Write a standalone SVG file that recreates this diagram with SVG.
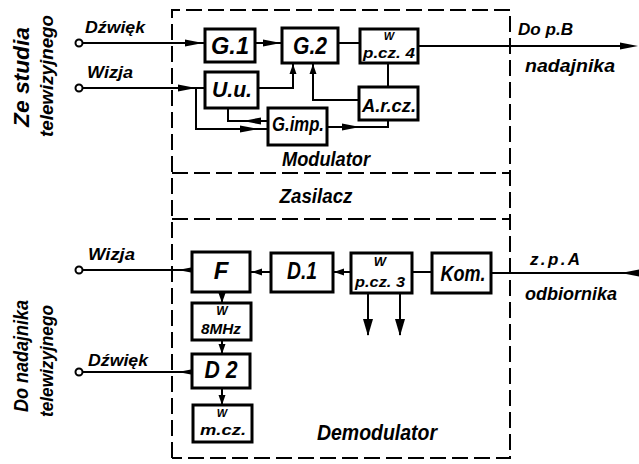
<svg xmlns="http://www.w3.org/2000/svg" xmlns:xlink="http://www.w3.org/1999/xlink" width="639" height="464" viewBox="0 0 639 464">
<style>
text{font-family:"Liberation Sans",Arial,sans-serif;font-style:italic;font-weight:bold;fill:#000}
.box{fill:#fff;stroke:#000;stroke-width:3}
.ln{fill:none;stroke:#000;stroke-width:2}
.dash{fill:none;stroke:#000;stroke-width:2;stroke-dasharray:16 6}
.c{text-anchor:middle}
.term{fill:#fff;stroke:#000;stroke-width:2}
</style>
<defs>
<path id="ah" d="M0,0 L-18,-3.5 L-18,3.5 Z" fill="#000"/>
<path id="as" d="M0,0 L-10,-3.5 L-10,3.5 Z" fill="#000"/>
<path id="ab" d="M0,0 L-17,-5 L-17,5 Z" fill="#000"/>
</defs>
<rect width="639" height="464" fill="#fff"/>

<g id="frame">
<path class="dash" d="M172,458 V10 H510 V458 H172"/>
<path class="dash" d="M172,173 H510"/>
<path class="dash" d="M172,219 H510"/>
<text x="326" y="166" class="c" font-size="20" textLength="88" lengthAdjust="spacingAndGlyphs">Modulator</text>
<text x="316" y="203" class="c" font-size="20" textLength="73" lengthAdjust="spacingAndGlyphs">Zasilacz</text>
<text x="377" y="440" class="c" font-size="22" textLength="120" lengthAdjust="spacingAndGlyphs">Demodulator</text>
</g>

<g id="labels">
<text transform="translate(29,77) rotate(-90)" class="c" font-size="22" textLength="100" lengthAdjust="spacingAndGlyphs">Ze studia</text>
<text transform="translate(53,76) rotate(-90)" class="c" font-size="18" textLength="122" lengthAdjust="spacingAndGlyphs">telewizyjnego</text>
<text transform="translate(28,356) rotate(-90)" class="c" font-size="21" textLength="112" lengthAdjust="spacingAndGlyphs">Do nadajnika</text>
<text transform="translate(53,361) rotate(-90)" class="c" font-size="18" textLength="112" lengthAdjust="spacingAndGlyphs">telewizyjnego</text>
<text x="85" y="33" font-size="17" textLength="60" lengthAdjust="spacingAndGlyphs">Dźwięk</text>
<text x="87" y="78" font-size="17" textLength="46" lengthAdjust="spacingAndGlyphs">Wizja</text>
<text x="88" y="260" font-size="17" textLength="47" lengthAdjust="spacingAndGlyphs">Wizja</text>
<text x="88" y="366" font-size="17" textLength="60" lengthAdjust="spacingAndGlyphs">Dźwięk</text>
<text x="518" y="35" font-size="16" textLength="55" lengthAdjust="spacingAndGlyphs">Do p.B</text>
<text x="525" y="72" font-size="18" textLength="90" lengthAdjust="spacingAndGlyphs">nadajnika</text>
<text x="530" y="265" font-size="17" textLength="50">z.p.A</text>
<text x="525" y="300" font-size="18" textLength="92" lengthAdjust="spacingAndGlyphs">odbiornika</text>
</g>

<g id="connectors">
<path class="ln" d="M82,43 H205"/>
<path class="ln" d="M82,88 H205"/>
<path class="ln" d="M196,88 V129 H268"/>
<path class="ln" d="M255,43 H282"/>
<path class="ln" d="M338,43 H360"/>
<path class="ln" d="M418,46 H630"/>
<path class="ln" d="M258,88 H293 V64"/>
<path class="ln" d="M359,100 H313 V64"/>
<path class="ln" d="M388,63 V87"/>
<path class="ln" d="M268,121 H228 V108"/>
<path class="ln" d="M327,127 H388 V120"/>
<use xlink:href="#ah" href="#ah" transform="translate(203,43)"/>
<use xlink:href="#ah" href="#ah" transform="translate(196,88)"/>
<use xlink:href="#ah" href="#ah" transform="translate(281,43)"/>
<use xlink:href="#ah" href="#ah" transform="translate(638,46)"/>
<use xlink:href="#as" href="#as" transform="translate(293,64) rotate(-90)"/>
<use xlink:href="#as" href="#as" transform="translate(313,64) rotate(-90)"/>
<use xlink:href="#ah" href="#ah" transform="translate(243,121) rotate(180)"/>
<use xlink:href="#ah" href="#ah" transform="translate(258,129)"/>
<use xlink:href="#ah" href="#ah" transform="translate(360,127)"/>
<path class="ln" d="M639,273 H491"/>
<path class="ln" d="M412,272 H432"/>
<path class="ln" d="M351,272 H333"/>
<path class="ln" d="M271,272 H250"/>
<path class="ln" d="M192,270 H82"/>
<path class="ln" d="M192,372 H82"/>
<path class="ln" d="M222,292 V303"/>
<path class="ln" d="M222,340 V354"/>
<path class="ln" d="M222,388 V405"/>
<path class="ln" d="M368,293 V335"/>
<path class="ln" d="M400,293 V335"/>
<use xlink:href="#ah" href="#ah" transform="translate(621,273) rotate(180)"/>
<use xlink:href="#as" href="#as" transform="translate(334,272) rotate(180)"/>
<use xlink:href="#as" href="#as" transform="translate(252,272) rotate(180)"/>
<use xlink:href="#ah" href="#ah" transform="translate(178,270) rotate(180)"/>
<use xlink:href="#ah" href="#ah" transform="translate(178,372) rotate(180)"/>
<use xlink:href="#as" href="#as" transform="translate(222,303) rotate(90)"/>
<use xlink:href="#as" href="#as" transform="translate(222,354) rotate(90)"/>
<use xlink:href="#as" href="#as" transform="translate(222,405) rotate(90)"/>
<use xlink:href="#ab" href="#ab" transform="translate(368,336) rotate(90)"/>
<use xlink:href="#ab" href="#ab" transform="translate(400,336) rotate(90)"/>
<circle class="term" cx="79" cy="43" r="3.5"/>
<circle class="term" cx="79" cy="88" r="3.5"/>
<circle class="term" cx="79" cy="270" r="3.5"/>
<circle class="term" cx="79" cy="372" r="3.5"/>
</g>

<g id="G1"><rect class="box" x="205" y="29" width="50" height="33"/><text x="230" y="54" class="c" font-size="24" textLength="38" lengthAdjust="spacingAndGlyphs">G.1</text></g>
<g id="G2"><rect class="box" x="282" y="28" width="56" height="35"/><text x="310" y="54" class="c" font-size="24" textLength="34" lengthAdjust="spacingAndGlyphs">G.2</text></g>
<g id="Wpcz4"><rect class="box" x="360" y="29" width="58" height="34"/><text x="389" y="40" class="c" font-size="11">W</text><text x="389" y="58" class="c" font-size="14" textLength="52" lengthAdjust="spacingAndGlyphs">p.cz. 4</text></g>
<g id="Uu"><rect class="box" x="205" y="72" width="53" height="36"/><text x="232" y="97" class="c" font-size="22" textLength="40" lengthAdjust="spacingAndGlyphs">U.u.</text></g>
<g id="Arcz"><rect class="box" x="359" y="87" width="59" height="33"/><text x="389" y="112" class="c" font-size="18" textLength="54" lengthAdjust="spacingAndGlyphs">A.r.cz.</text></g>
<g id="Gimp"><rect class="box" x="268" y="108" width="59" height="37"/><text x="298" y="131" class="c" font-size="20" textLength="52" lengthAdjust="spacingAndGlyphs">G.imp.</text></g>

<g id="F"><rect class="box" x="192" y="252" width="58" height="40"/><text x="221" y="279" class="c" font-size="24">F</text></g>
<g id="D1"><rect class="box" x="271" y="253" width="62" height="39"/><text x="302" y="279" class="c" font-size="24" textLength="30" lengthAdjust="spacingAndGlyphs">D.1</text></g>
<g id="Wpcz3"><rect class="box" x="351" y="253" width="61" height="40"/><text x="380" y="266" class="c" font-size="13">W</text><text x="380" y="287" class="c" font-size="15" textLength="50" lengthAdjust="spacingAndGlyphs">p.cz. 3</text></g>
<g id="Kom"><rect class="box" x="432" y="253" width="59" height="40"/><text x="463" y="281" class="c" font-size="22" textLength="45" lengthAdjust="spacingAndGlyphs">Kom.</text></g>
<g id="W8MHz"><rect class="box" x="192" y="303" width="59" height="37"/><text x="222" y="315" class="c" font-size="12">W</text><text x="221" y="334" class="c" font-size="14" textLength="40" lengthAdjust="spacingAndGlyphs">8MHz</text></g>
<g id="D2"><rect class="box" x="192" y="354" width="58" height="34"/><text x="221" y="378" class="c" font-size="24" textLength="33" lengthAdjust="spacingAndGlyphs">D 2</text></g>
<g id="Wmcz"><rect class="box" x="193" y="405" width="59" height="37"/><text x="222" y="417" class="c" font-size="11">W</text><text x="223" y="435" class="c" font-size="14" textLength="46" lengthAdjust="spacingAndGlyphs">m.cz.</text></g>
</svg>
